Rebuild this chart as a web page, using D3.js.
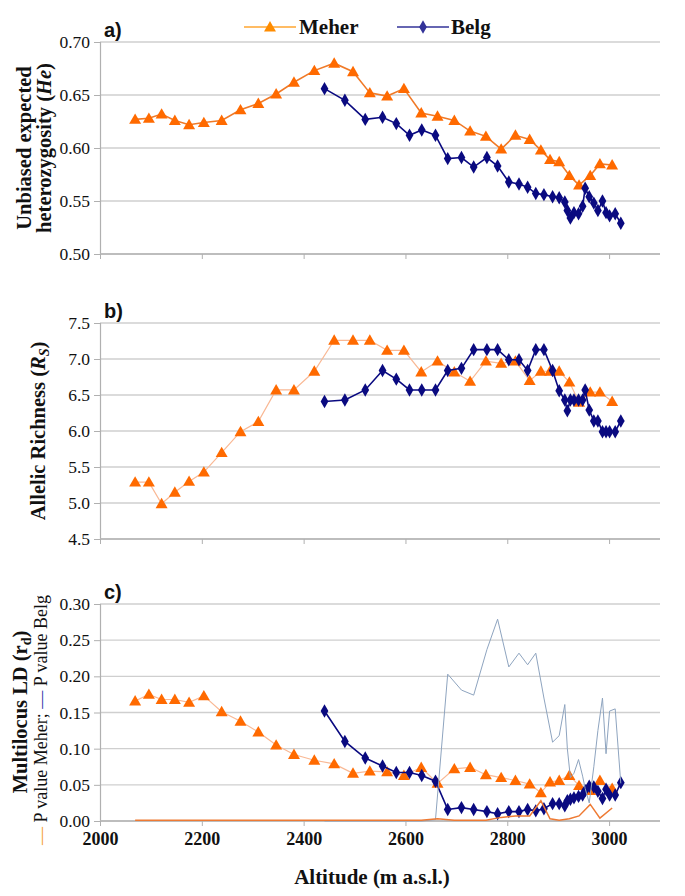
<!DOCTYPE html>
<html><head><meta charset="utf-8">
<script src="https://cdn.jsdelivr.net/npm/d3@7"></script>
<style>body{margin:0;background:#fff;} svg{display:block;}</style>
</head><body>
<svg id="chart" width="685" height="896"></svg>
<script>
// ---------- data ----------
const xTicks = [2000, 2200, 2400, 2600, 2800, 3000];
const meherAlt = [2069, 2096, 2121, 2147, 2175, 2204, 2239, 2276, 2311, 2346, 2381, 2421, 2460, 2497, 2530, 2564, 2597, 2631, 2663, 2696, 2727, 2758, 2788, 2816, 2844, 2866, 2884, 2902, 2922, 2941, 2963, 2982, 3006];
const meherHe = [0.627, 0.628, 0.632, 0.626, 0.622, 0.624, 0.626, 0.636, 0.642, 0.651, 0.662, 0.673, 0.680, 0.672, 0.652, 0.649, 0.656, 0.633, 0.630, 0.626, 0.616, 0.611, 0.599, 0.612, 0.608, 0.598, 0.589, 0.587, 0.574, 0.565, 0.574, 0.585, 0.584];
const meherRs = [5.29, 5.29, 4.99, 5.15, 5.30, 5.43, 5.70, 5.99, 6.13, 6.57, 6.57, 6.83, 7.26, 7.26, 7.26, 7.12, 7.12, 6.82, 6.97, 6.82, 6.69, 6.97, 6.94, 6.97, 6.70, 6.83, 6.83, 6.83, 6.68, 6.40, 6.54, 6.54, 6.41];
const meherLD = [0.166, 0.175, 0.168, 0.168, 0.164, 0.173, 0.151, 0.138, 0.123, 0.105, 0.092, 0.084, 0.079, 0.066, 0.069, 0.068, 0.063, 0.074, 0.052, 0.072, 0.074, 0.064, 0.060, 0.056, 0.051, 0.039, 0.054, 0.056, 0.063, 0.049, 0.042, 0.056, 0.045];
const meherP = [0.001, 0.001, 0.001, 0.001, 0.001, 0.001, 0.001, 0.001, 0.001, 0.001, 0.001, 0.001, 0.001, 0.001, 0.001, 0.001, 0.001, 0.001, 0.003, 0.001, 0.001, 0.001, 0.005, 0.007, 0.007, 0.028, 0.003, 0.001, 0.003, 0.007, 0.023, 0.004, 0.018];

const belgAlt = [2441, 2481, 2521, 2555, 2582, 2608, 2632, 2659, 2683, 2710, 2734, 2760, 2781, 2803, 2823, 2840, 2856, 2872, 2889, 2902, 2913, 2918, 2924, 2931, 2940, 2948, 2953, 2961, 2970, 2978, 2987, 2994, 3001, 3012, 3023];
const belgHe = [0.656, 0.645, 0.627, 0.629, 0.623, 0.612, 0.617, 0.612, 0.590, 0.591, 0.582, 0.591, 0.583, 0.568, 0.566, 0.563, 0.557, 0.556, 0.554, 0.553, 0.549, 0.541, 0.534, 0.539, 0.538, 0.545, 0.562, 0.554, 0.548, 0.541, 0.550, 0.539, 0.536, 0.538, 0.529];
const belgRs = [6.41, 6.43, 6.57, 6.84, 6.72, 6.57, 6.57, 6.57, 6.84, 6.87, 7.13, 7.13, 7.13, 6.99, 6.99, 6.84, 7.13, 7.13, 6.84, 6.56, 6.43, 6.28, 6.43, 6.43, 6.43, 6.43, 6.57, 6.29, 6.14, 6.14, 5.99, 5.99, 5.99, 5.99, 6.14];
const belgLD = [0.152, 0.110, 0.087, 0.076, 0.067, 0.067, 0.063, 0.055, 0.016, 0.0185, 0.016, 0.013, 0.010, 0.013, 0.013, 0.016, 0.014, 0.017, 0.024, 0.024, 0.021, 0.028, 0.030, 0.032, 0.034, 0.036, 0.042, 0.048, 0.047, 0.041, 0.031, 0.044, 0.036, 0.036, 0.053];
const belgP = [0, 0, 0, 0, 0, 0, 0, 0.002, 0.203, 0.181, 0.174, 0.237, 0.279, 0.213, 0.232, 0.216, 0.232, 0.170, 0.109, 0.118, 0.161, 0.100, 0.060, 0.066, 0.085, 0.062, 0.045, 0.025, 0.075, 0.125, 0.170, 0.093, 0.152, 0.155, 0.052];

const heTicks = [0.50, 0.55, 0.60, 0.65, 0.70];
const rsTicks = [4.5, 5.0, 5.5, 6.0, 6.5, 7.0, 7.5];
const ldTicks = [0.00, 0.05, 0.10, 0.15, 0.20, 0.25, 0.30];

// ---------- drawing ----------
const svg = d3.select("#chart");
const serif = "'Liberation Serif','Times New Roman',serif";
const sans = "'Liberation Sans',Arial,sans-serif";
const ORANGE = "#ff6a00", NAVY = "#0a0a80";

const x = d3.scaleLinear().domain([2000, 3100]).range([100, 660]);

const panels = [
  {key:"a", domain:[0.50, 0.70], range:[254, 42], ticks:heTicks, fmt:d3.format(".2f"),
   mVals:meherHe, bVals:belgHe, mLine:"#f07a28", mLineW:1.6},
  {key:"b", domain:[4.5, 7.5], range:[539, 323], ticks:rsTicks, fmt:d3.format(".1f"),
   mVals:meherRs, bVals:belgRs, mLine:"#f9b894", mLineW:1.2},
  {key:"c", domain:[0, 0.30], range:[821, 604], ticks:ldTicks, fmt:d3.format(".2f"),
   mVals:meherLD, bVals:belgLD, mLine:"#f9b894", mLineW:1.2}
];

const tri = d3.symbol().type(d3.symbolTriangle).size(62);
const dia = d3.symbol().type(d3.symbolDiamond).size(52);

panels.forEach(p => {
  const y = d3.scaleLinear().domain(p.domain).range(p.range);
  p.y = y;
  const g = svg.append("g");
  // gridlines
  g.selectAll("line.grid").data(p.ticks).join("line")
    .attr("x1", 100).attr("x2", 660)
    .attr("y1", d => y(d)).attr("y2", d => y(d))
    .attr("stroke", d => d === p.domain[0] ? "#b8b8b8" : "#cfcfcf").attr("stroke-width", 1.3);
  // y axis
  const ya = g.append("g").attr("transform", "translate(100,0)")
    .call(d3.axisLeft(y).tickValues(p.ticks).tickFormat(p.fmt).tickSize(6).tickPadding(4));
  ya.select(".domain").attr("stroke", "#b0b0b0").attr("stroke-width", 1.2);
  ya.selectAll(".tick line").attr("stroke", "#b0b0b0");
  ya.selectAll("text").attr("font-family", serif).attr("font-size", 17.5).attr("fill", "#111");
  // x axis
  const xa = g.append("g").attr("transform", `translate(0,${p.range[0]})`)
    .call(d3.axisBottom(x).tickValues(xTicks).tickSize(5).tickPadding(6).tickFormat(p.key === "c" ? d3.format("d") : ""));
  xa.select(".domain").attr("stroke", "#b8b8b8").attr("stroke-width", 1.3).attr("d", "M100,0H660");
  xa.selectAll(".tick line").attr("stroke", "#b0b0b0");
  xa.selectAll("text").attr("font-family", serif).attr("font-size", 18).attr("font-weight", "bold").attr("fill", "#111");
  // panel label
  svg.append("text").attr("x", 104).attr("y", p.range[1] - 5)
    .attr("font-family", sans).attr("font-weight", "bold").attr("font-size", 20).attr("fill", "#111")
    .text(p.key + ")");

  const mData = meherAlt.map((a, i) => [a, p.mVals[i]]);
  const bData = belgAlt.map((a, i) => [a, p.bVals[i]]);
  const line = d3.line().x(d => x(d[0])).y(d => y(d[1]));

  g.append("path").datum(mData).attr("d", line).attr("fill", "none")
    .attr("stroke", p.mLine).attr("stroke-width", p.mLineW);
  g.selectAll("path.mk").data(mData).join("path").attr("class", "mk")
    .attr("transform", d => `translate(${x(d[0])},${y(d[1]) + 1})`).attr("d", tri).attr("fill", ORANGE);

  g.append("path").datum(bData).attr("d", line).attr("fill", "none")
    .attr("stroke", NAVY).attr("stroke-width", 1.6);
  g.selectAll("path.bk").data(bData).join("path").attr("class", "bk")
    .attr("transform", d => `translate(${x(d[0])},${y(d[1])})`).attr("d", dia).attr("fill", NAVY);

  if (p.key === "c") {
    const mp = meherAlt.map((a, i) => [a, meherP[i]]);
    const bp = belgAlt.map((a, i) => [a, belgP[i]]);
    g.append("path").datum(bp).attr("d", line).attr("fill", "none")
      .attr("stroke", "#8ea4bf").attr("stroke-width", 1);
    g.append("path").datum(mp).attr("d", line).attr("fill", "none")
      .attr("stroke", "#ee7a33").attr("stroke-width", 1.5);
  }
});

// ---------- legend ----------
const lg = svg.append("g");
lg.append("line").attr("x1", 244).attr("x2", 296).attr("y1", 27).attr("y2", 27).attr("stroke", "#ffa630").attr("stroke-width", 1.6);
lg.append("path").attr("d", tri).attr("transform", "translate(270,28)").attr("fill", "#ff8c00");
lg.append("text").attr("x", 299).attr("y", 34).attr("font-family", serif).attr("font-weight", "bold").attr("font-size", 21).attr("fill", "#111").text("Meher");
lg.append("line").attr("x1", 397).attr("x2", 449).attr("y1", 27).attr("y2", 27).attr("stroke", "#333399").attr("stroke-width", 1.6);
lg.append("path").attr("d", dia).attr("transform", "translate(423,27)").attr("fill", "#333399");
lg.append("text").attr("x", 451).attr("y", 34).attr("font-family", serif).attr("font-weight", "bold").attr("font-size", 21).attr("fill", "#111").text("Belg");

// ---------- axis titles ----------
function vtext(cx, cy) {
  return svg.append("text").attr("transform", `translate(${cx},${cy}) rotate(-90)`)
    .attr("text-anchor", "middle").attr("font-family", serif).attr("fill", "#111");
}
vtext(31, 148).attr("font-weight", "bold").attr("font-size", 20.5).text("Unbiased expected");
const t2 = vtext(51, 148).attr("font-weight", "bold").attr("font-size", 20.5);
t2.append("tspan").text("heterozygosity (");
t2.append("tspan").attr("font-style", "italic").text("He");
t2.append("tspan").text(")");

const tb = vtext(45, 431).attr("font-weight", "bold").attr("font-size", 20.5);
tb.append("tspan").text("Allelic Richness (");
tb.append("tspan").attr("font-style", "italic").text("R");
tb.append("tspan").attr("font-style", "italic").attr("font-size", 14).attr("dy", 4).text("S");
tb.append("tspan").attr("dy", -4).text(")");

const tc = vtext(27, 712).attr("font-weight", "bold").attr("font-size", 20.5);
tc.append("tspan").text("Multilocus LD (r");
tc.append("tspan").attr("font-size", 14).attr("dy", 4).text("d");
tc.append("tspan").attr("dy", -4).text(")");

const tp = vtext(47, 720).attr("font-size", 18);
tp.append("tspan").attr("fill", "#f5a030").text("— ");
tp.append("tspan").text("P value Meher; ");
tp.append("tspan").attr("fill", "#3333aa").text("—");
tp.append("tspan").text(" P value Belg");

svg.append("text").attr("x", 372).attr("y", 884).attr("text-anchor", "middle")
  .attr("font-family", serif).attr("font-weight", "bold").attr("font-size", 21).attr("fill", "#111")
  .text("Altitude (m a.s.l.)");
</script>
</body></html>
